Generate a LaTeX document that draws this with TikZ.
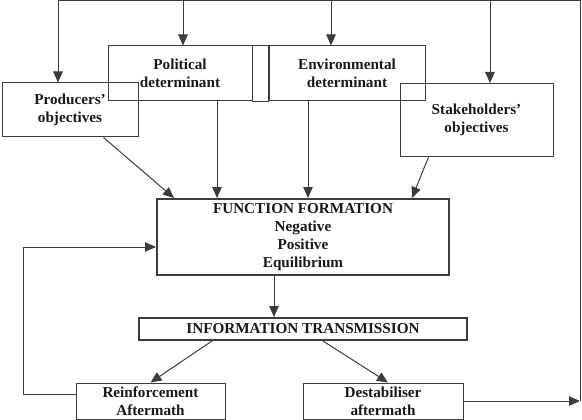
\documentclass[tikz,border=0pt]{standalone}
\usepackage{fontspec}
\setmainfont{Liberation Serif}
\usetikzlibrary{arrows.meta,calc}
\definecolor{lc}{RGB}{60,60,60}
\definecolor{tc}{RGB}{25,25,25}
\begin{document}
\begin{tikzpicture}[x=1pt,y=-1pt,
  box/.style={draw=lc,line width=1pt,inner sep=0pt,align=center,text=tc,
    font=\fontsize{15.2}{18}\selectfont\bfseries},
  bbox/.style={box,line width=2pt},
  arr/.style={draw=lc,line width=1pt,-{Triangle[length=11pt,width=9.5pt]}},
  ln/.style={draw=lc,line width=1pt}]
\useasboundingbox (0,0) rectangle (582,420);
% boxes
\node[box,minimum width=144pt,minimum height=55pt] (pol) at (180,73.5) {Political\\determinant};
\node[box,minimum width=156pt,minimum height=55pt] (env) at (347,73.5) {Environmental\\determinant};
\draw[ln] (pol.north east) rectangle (env.south west);
\node[box,minimum width=136pt,minimum height=54pt] (prod) at (70,110) {Producers'\\objectives};
\node[box,minimum width=153pt,minimum height=73pt] (stake) at (476.5,120) {Stakeholders'\\objectives};
\node[bbox,minimum width=292pt,minimum height=76pt] (func) at (303,237) {FUNCTION FORMATION\\Negative\\Positive\\Equilibrium};
\node[bbox,minimum width=328pt,minimum height=22pt] (info) at (303,329) {INFORMATION TRANSMISSION};
\node[box,minimum width=149pt,minimum height=36pt] (reinf) at (150.5,401) {Reinforcement\\Aftermath};
\node[box,minimum width=160pt,minimum height=36pt] (dest) at (383,401) {Destabiliser\\aftermath};
% top loop
\coordinate (tl) at (58,1);
\coordinate (tr) at (580,1);
\coordinate (t1) at (183,1);
\coordinate (t2) at (331,1);
\coordinate (t3) at (490,1);
\draw[arr] (dest.east) -- (dest.east -| tr);
\draw[ln] (dest.east -| tr) -- (tr) -- (tl);
\draw[arr] (tl) -- (tl |- prod.north);
\draw[arr] (t1) -- (t1 |- pol.north);
\draw[arr] (t2) -- (t2 |- env.north);
\draw[arr] (t3) -- (t3 |- stake.north);
% into function formation
\draw[arr] ([xshift=102pt]prod.south west) -- ([xshift=18pt]func.north west);
\draw[arr] ([xshift=37pt]pol.south) -- ([xshift=37pt]pol.south |- func.north);
\draw[arr] ([xshift=-39pt]env.south) -- ([xshift=-39pt]env.south |- func.north);
\draw[arr] ([xshift=29pt]stake.south west) -- ([xshift=-38pt]func.north east);
% downstream
\draw[arr] ([xshift=-29pt]func.south) -- ([xshift=-29pt]func.south |- info.north);
\draw[arr] ([xshift=74pt]info.south west) -- (reinf.north);
\draw[arr] ([xshift=185pt]info.south west) -- ([xshift=5pt]dest.north);
% feedback
\draw[arr] ([yshift=7pt]reinf.west) -- ++(-52,0) |- ([yshift=-10pt]func.west);
\end{tikzpicture}
\end{document}
